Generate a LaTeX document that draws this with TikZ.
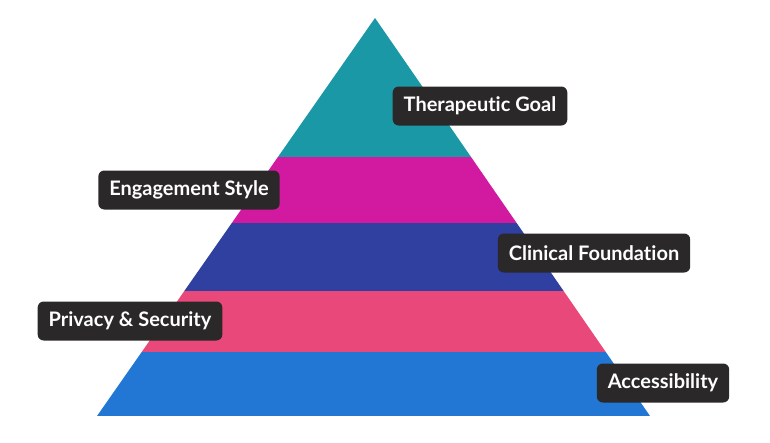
\documentclass[tikz,border=0pt]{standalone}
\usepackage{fontspec}
\setmainfont[Ligatures=NoCommon]{Lato}
\definecolor{goalc}{HTML}{1B98A6}
\definecolor{stylec}{HTML}{D21AA0}
\definecolor{foundc}{HTML}{3040A0}
\definecolor{privc}{HTML}{E8497A}
\definecolor{accc}{HTML}{2277D4}
\definecolor{tagc}{HTML}{2B2829}
\tikzset{
  tag/.style={fill=tagc, text=white, rounded corners=6pt, font=\bfseries\fontsize{20}{24}\selectfont,
    minimum height=39pt, inner xsep=11pt}
}
\begin{document}
\begin{tikzpicture}[x=1pt,y=-1pt]
\useasboundingbox (0,0) rectangle (770,442);
% pyramid bands
\begin{scope}
\clip (375,18) -- (650,416) -- (97,416) -- cycle;
\fill [goalc] (0,0) rectangle (770,157);
\fill [stylec] (0,157) rectangle (770,223);
\fill [foundc] (0,223) rectangle (770,291);
\fill [privc] (0,291) rectangle (770,352);
\fill [accc] (0,352) rectangle (770,416);
\end{scope}
% labels
\node [tag] (goal) at (480,106) {Therapeutic Goal};
\node [tag] (style) at (189,190) {Engagement Style};
\node [tag] (found) at (594,253) {Clinical Foundation};
\node [tag] (priv) at (130,321) {Privacy \& Security};
\node [tag] (acc) at (663,383) {Accessibility};
\end{tikzpicture}
\end{document}
